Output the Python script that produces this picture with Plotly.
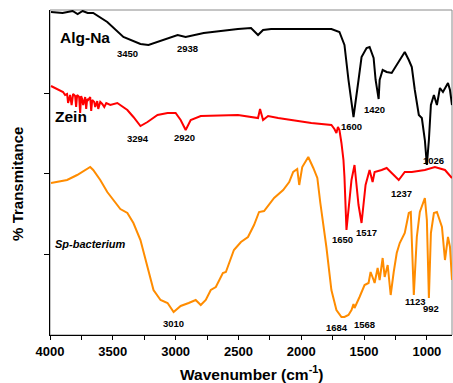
import plotly.graph_objects as go

# ---- data (wavenumber, offset transmittance in display units) ----
alg_wn = [3992, 3900, 3820, 3780, 3740, 3700, 3656, 3544, 3416, 3280, 3216, 3096, 2984, 2920, 2776, 2504, 2400,
          2344, 2304, 2240, 1760, 1696, 1656, 1624, 1600, 1584, 1544, 1520, 1480, 1456, 1424, 1408, 1384,
          1376, 1352, 1320, 1280, 1224, 1176, 1144, 1120, 1096, 1064, 1040, 1016, 1000, 984, 968, 944,
          920, 896, 872, 832, 816, 800]
alg_t = [323, 322, 324, 321, 324, 322, 322, 313, 298, 291, 290, 295, 300, 298, 302, 306, 307,
         300, 305, 306, 306, 303, 290, 255, 230, 218, 255, 278, 287, 288, 277, 255, 236,
         255, 265, 263, 262, 273, 283, 275, 268, 245, 220, 217, 195, 170, 195, 230, 240,
         230, 247, 243, 252, 245, 230]

zein_wn = [3992, 3896, 3880, 3864, 3856, 3840, 3828, 3816, 3800, 3792, 3784, 3768, 3760, 3752, 3744,
           3736, 3720, 3712, 3704, 3696, 3680, 3672, 3664, 3648, 3640, 3624, 3616, 3600, 3584, 3568,
           3552, 3520, 3464, 3384, 3336, 3296, 3280, 3224, 3144, 3064, 3000, 2960, 2920, 2880, 2800,
           2504, 2344, 2328, 2304, 2264, 2184, 1920, 1760, 1736, 1720, 1708, 1696, 1680, 1664, 1656,
           1640, 1600, 1576, 1544, 1520, 1488, 1456, 1432, 1416, 1360, 1320, 1280, 1224, 1176, 1120,
           1016, 936, 856, 800]
zein_t = [249, 243, 240, 241, 232, 240, 230, 241, 239, 228, 240, 238, 222, 239, 236,
          230, 238, 226, 236, 235, 238, 224, 235, 233, 228, 234, 226, 233, 231, 228,
          232, 230, 232, 225, 218, 212, 209, 213, 220, 222, 222, 215, 205, 215, 219,
          220, 217, 226, 215, 219, 217, 212, 210, 206, 202, 208, 205, 192, 175, 158,
          105, 155, 170, 130, 112, 150, 165, 153, 163, 165, 167, 162, 155, 163, 163,
          165, 168, 165, 157]

sp_wn = [3992, 3864, 3784, 3720, 3680, 3656, 3600, 3544, 3496, 3440, 3384, 3336, 3280, 3224, 3176,
         3120, 3064, 3016, 2960, 2896, 2840, 2800, 2760, 2720, 2680, 2624, 2600, 2536, 2480, 2424,
         2376, 2336, 2296, 2216, 2144, 2096, 2064, 2032, 2016, 1992, 1944, 1904, 1872, 1848, 1800,
         1760, 1720, 1680, 1656, 1624, 1600, 1584, 1576, 1536, 1496, 1464, 1448, 1424, 1416, 1392,
         1376, 1352, 1336, 1312, 1288, 1264, 1240, 1216, 1176, 1144, 1128, 1104, 1080, 1056, 1016,
         1000, 992, 984, 968, 944, 920, 880, 856, 832, 816, 800]
sp_t = [152, 155, 160, 165, 168, 165, 155, 143, 135, 126, 122, 112, 95, 68, 45,
        35, 32, 23, 29, 32, 35, 30, 35, 45, 48, 62, 63, 85, 93, 98,
        110, 123, 124, 137, 145, 153, 163, 166, 150, 168, 178, 167, 157, 132, 88,
        45, 25, 18, 18, 20, 25, 31, 27, 38, 50, 52, 63, 55, 52, 67,
        55, 77, 58, 70, 40, 63, 82, 92, 102, 122, 123, 40, 98, 123, 137,
        115, 78, 37, 102, 122, 123, 108, 75, 98, 88, 55]

x_tickvals = [4000, 3500, 3000, 2500, 2000, 1500, 1000]
x_ticktext = ["4000", "3500", "3000", "2500", "2000", "1500", "1000"]
y_tickvals = [81, 162, 242]

series_names = ["Alg-Na", "Zein", "Sp-bacterium"]

# peak labels: (wavenumber, value, text)
peak_labels = [
    (3384, 282, "3450"), (2904, 287, "2938"), (1600, 209, "1600"), (1416, 226, "1420"), (944, 175, "1026"),
    (3296, 197, "3294"), (2928, 198, "2920"), (1672, 96, "1650"), (1480, 103, "1517"), (1200, 142, "1237"),
    (3016, 12, "3010"), (1712, 8, "1684"), (1496, 11, "1568"), (1088, 34, "1123"), (968, 27, "992"),
]

FONT = "Arial, 'Liberation Sans', sans-serif"

fig = go.Figure()
fig.add_trace(go.Scatter(x=alg_wn, y=alg_t, mode="lines", name=series_names[0],
                         line=dict(color="#000000", width=2)))
fig.add_trace(go.Scatter(x=zein_wn, y=zein_t, mode="lines", name=series_names[1],
                         line=dict(color="#FF0000", width=2)))
fig.add_trace(go.Scatter(x=sp_wn, y=sp_t, mode="lines", name=series_names[2],
                         line=dict(color="#FF8C00", width=2)))

# frame (grey top/right)
fig.add_shape(type="rect", xref="paper", yref="paper", x0=0, y0=0, x1=1, y1=1,
              line=dict(color="#8a8a8a", width=1), layer="below")

# series labels
fig.add_annotation(x=3940, y=298, text="<b>Alg-Na</b>", showarrow=False, xanchor="left",
                   font=dict(family=FONT, size=15.5, color="black"))
fig.add_annotation(x=3975, y=219, text="<b>Zein</b>", showarrow=False, xanchor="left",
                   font=dict(family=FONT, size=15.5, color="black"))
fig.add_annotation(x=3975, y=91, text="<b><i>Sp-bacterium</i></b>", showarrow=False, xanchor="left",
                   font=dict(family=FONT, size=11, color="black"))

for wn, v, t in peak_labels:
    fig.add_annotation(x=wn, y=v, text="<b>" + t + "</b>", showarrow=False,
                       font=dict(family=FONT, size=9.5, color="black"))

# axis titles
fig.add_annotation(xref="paper", yref="paper", x=0.5, y=0, yshift=-38, xanchor="center", yanchor="middle",
                   text="<b>Wavenumber (cm<sup>-1</sup>)</b>", showarrow=False,
                   font=dict(family=FONT, size=15.5, color="black"))
fig.add_annotation(xref="paper", yref="paper", x=0, xshift=-32, y=0.465, xanchor="center", yanchor="middle",
                   text="<b>% Transmitance</b>", textangle=-90, showarrow=False,
                   font=dict(family=FONT, size=15, color="black"))

fig.update_layout(
    width=453, height=383,
    margin=dict(l=50, r=1, t=10, b=48),
    paper_bgcolor="white", plot_bgcolor="white",
    showlegend=False,
    font=dict(family=FONT, color="black"),
)
fig.update_xaxes(range=[4000, 800], autorange=False, showgrid=False, zeroline=False,
                 showline=True, linecolor="black", linewidth=1,
                 ticks="outside", ticklen=4, tickcolor="black",
                 tickmode="array", tickvals=x_tickvals, ticktext=x_ticktext,
                 minor=dict(tickmode="linear", tick0=1000, dtick=250, ticks="outside",
                            ticklen=4, tickcolor="black"),
                 tickfont=dict(family=FONT, size=13, color="black", weight="bold"))
fig.update_yaxes(range=[0, 325], autorange=False, showgrid=False, zeroline=False,
                 showline=True, linecolor="black", linewidth=1,
                 ticks="outside", ticklen=5, tickcolor="black",
                 tickvals=y_tickvals, showticklabels=False)

fig.write_html("out.html", config={"displayModeBar": False},
               post_script="document.body.style.margin='0px';document.body.style.overflow='hidden';")
